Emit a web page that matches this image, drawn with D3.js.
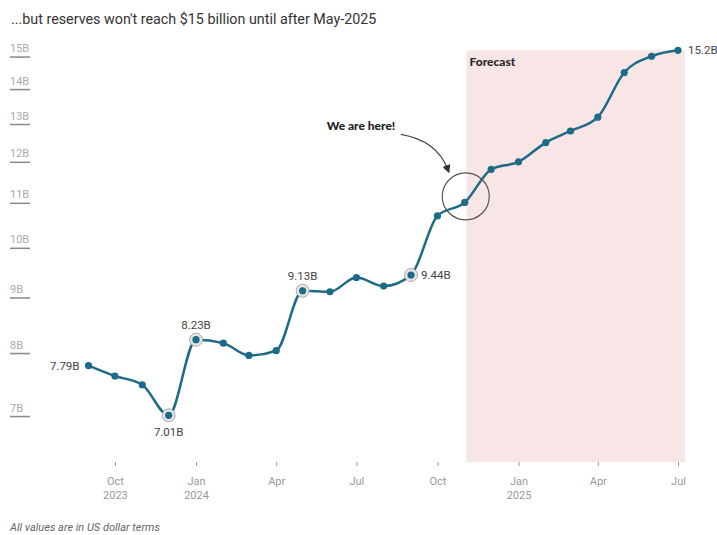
<!DOCTYPE html>
<html>
<head>
<meta charset="utf-8">
<script src="https://cdn.jsdelivr.net/npm/d3@7"></script>
<style>
  body { margin: 0; background: #fff; }
  svg { display: block; font-family: Roboto, "Noto Sans", sans-serif; }
</style>
</head>
<body>
<div id="chart"></div>
<script>
// monthly reserves, billions of US dollars (actual up to Nov 2024, forecast after)
const months = ["2023-09", "2023-10", "2023-11", "2023-12", "2024-01", "2024-02", "2024-03", "2024-04",
  "2024-05", "2024-06", "2024-07", "2024-08", "2024-09", "2024-10", "2024-11", "2024-12",
  "2025-01", "2025-02", "2025-03", "2025-04", "2025-05", "2025-06", "2025-07"];
const reserves = [7.79, 7.62, 7.48, 7.01, 8.23, 8.17, 7.96, 8.04,
  9.13, 9.11, 9.39, 9.22, 9.44, 10.70, 11.01, 11.81,
  12.00, 12.50, 12.81, 13.19, 14.50, 15.01, 15.2];

// labelled points: month, where the label sits, halo or not
const callouts = [
  { month: "2023-09", pos: "left", halo: false },
  { month: "2023-12", pos: "below", halo: true },
  { month: "2024-01", pos: "above", halo: true },
  { month: "2024-05", pos: "above", halo: true },
  { month: "2024-09", pos: "right", halo: true },
  { month: "2025-07", pos: "right", halo: false }
];

const yTicks = [7, 8, 9, 10, 11, 12, 13, 14, 15];
const xTicks = ["2023-10", "2024-01", "2024-04", "2024-07", "2024-10", "2025-01", "2025-04", "2025-07"];
const forecastSpan = ["2024-11-03", "2025-07-09"];
const herePoint = "2024-11";

const subtitle = "...but reserves won't reach $15 billion until after May-2025";
const footnote = "All values are in US dollar terms";

const parseMonth = d3.timeParse("%Y-%m");
const parseDay = d3.timeParse("%Y-%m-%d");
const data = months.map((m, i) => ({ date: parseMonth(m), value: reserves[i], key: m }));

const width = 717, height = 535;
const lineColor = "#1d6b87";

const svg = d3.select("#chart").append("svg")
  .attr("width", width)
  .attr("height", height);

const x = d3.scaleTime()
  .domain(d3.extent(data, d => d.date))
  .range([88.5, 678]);

const y = d3.scaleLog()
  .domain([6.35, 15.2])
  .range([462, 50.3]);

// forecast band
svg.append("rect")
  .attr("x", x(parseDay(forecastSpan[0])))
  .attr("y", y(15.2))
  .attr("width", x(parseDay(forecastSpan[1])) - x(parseDay(forecastSpan[0])))
  .attr("height", y(6.35) - y(15.2))
  .attr("fill", "#f8e5e5");

svg.append("text")
  .attr("x", x(parseDay(forecastSpan[0])) + 3)
  .attr("y", 66)
  .attr("font-family", "Lato, sans-serif")
  .attr("font-weight", 900)
  .attr("font-size", 12)
  .attr("fill", "#2a2a2a")
  .text("Forecast");

// subtitle and footnote
svg.append("text")
  .attr("x", 11)
  .attr("y", 24)
  .attr("font-size", 14.3)
  .attr("fill", "#333")
  .text(subtitle);

svg.append("text")
  .attr("x", 10)
  .attr("y", 531)
  .attr("font-size", 11)
  .attr("font-style", "italic")
  .attr("fill", "#666")
  .text(footnote);

// y axis: labels sit above short tick lines
const yAxis = svg.append("g")
  .attr("transform", "translate(10,0)")
  .call(d3.axisRight(y).tickValues(yTicks).tickSize(20).tickFormat(d => d + "B"));
yAxis.select(".domain").remove();
yAxis.selectAll(".tick line").attr("stroke", "#888").attr("stroke-width", 1.5);
yAxis.selectAll(".tick text")
  .attr("x", 0)
  .attr("dy", -5)
  .attr("text-anchor", "start")
  .attr("font-family", "Roboto, sans-serif")
  .attr("font-size", 11)
  .attr("fill", "#aaa");

// x axis
const fmtMonth = d3.timeFormat("%b");
const xAxis = svg.append("g")
  .attr("transform", "translate(0,462)")
  .call(d3.axisBottom(x).tickValues(xTicks.map(parseMonth)).tickSize(4).tickFormat(""));
xAxis.select(".domain").remove();
xAxis.selectAll(".tick line").attr("stroke", "#999");
xAxis.selectAll(".tick").each(function (d) {
  const t = d3.select(this).select("text")
    .attr("y", 0)
    .attr("dy", null)
    .attr("font-family", "Roboto, sans-serif")
    .attr("font-size", 11)
    .attr("fill", "#999");
  t.append("tspan").attr("x", 0).attr("y", 23).text(fmtMonth(d));
  if (d.getMonth() === 0 || +d === +parseMonth(xTicks[0])) {
    t.append("tspan").attr("x", 0).attr("y", 37).text(d3.timeFormat("%Y")(d));
  }
});

// line
const line = d3.line()
  .x(d => x(d.date))
  .y(d => y(d.value))
  .curve(d3.curveMonotoneX);

svg.append("path")
  .datum(data)
  .attr("fill", "none")
  .attr("stroke", lineColor)
  .attr("stroke-width", 2.5)
  .attr("d", line);

// halos
const byKey = new Map(data.map(d => [d.key, d]));
svg.append("g")
  .selectAll("circle")
  .data(callouts.filter(c => c.halo))
  .join("circle")
  .attr("cx", c => x(byKey.get(c.month).date))
  .attr("cy", c => y(byKey.get(c.month).value))
  .attr("r", 6.5)
  .attr("fill", "#e4e4e4")
  .attr("stroke", "#aaa")
  .attr("stroke-width", 1);

svg.append("g")
  .selectAll("circle")
  .data(data)
  .join("circle")
  .attr("cx", d => x(d.date))
  .attr("cy", d => y(d.value))
  .attr("r", 3.6)
  .attr("fill", lineColor);

// value labels
svg.append("g")
  .selectAll("text")
  .data(callouts)
  .join("text")
  .attr("x", c => {
    const px = x(byKey.get(c.month).date);
    if (c.pos === "left") return px - 9;
    if (c.pos === "right") return px + 10;
    return px;
  })
  .attr("y", c => {
    const py = y(byKey.get(c.month).value);
    if (c.pos === "above") return py - 11;
    if (c.pos === "below") return py + 21;
    return py + 4;
  })
  .attr("text-anchor", c => c.pos === "left" ? "end" : c.pos === "right" ? "start" : "middle")
  .attr("font-size", 11.5)
  .attr("fill", "#444")
  .text(c => byKey.get(c.month).value + "B");

// "we are here" annotation
const here = byKey.get(herePoint);
const hx = x(here.date), hy = y(here.value);

svg.append("circle")
  .attr("cx", hx + 1)
  .attr("cy", hy - 6)
  .attr("r", 23.5)
  .attr("fill", "none")
  .attr("stroke", "#555")
  .attr("stroke-width", 1.2);

svg.append("defs").append("marker")
  .attr("id", "arrow")
  .attr("viewBox", "0 0 10 10")
  .attr("refX", 5)
  .attr("refY", 5)
  .attr("markerWidth", 7)
  .attr("markerHeight", 7)
  .attr("orient", "auto")
  .append("path")
  .attr("d", "M0,0 L10,5 L0,10 Z")
  .attr("fill", "#333");

svg.append("path")
  .attr("d", `M${hx - 64},${hy - 68} Q${hx - 28},${hy - 62} ${hx - 17},${hy - 33}`)
  .attr("fill", "none")
  .attr("stroke", "#444")
  .attr("stroke-width", 1.2)
  .attr("marker-end", "url(#arrow)");

svg.append("text")
  .attr("x", hx - 138)
  .attr("y", hy - 72)
  .attr("font-family", "Lato, sans-serif")
  .attr("font-weight", 900)
  .attr("font-size", 12)
  .attr("fill", "#222")
  .text("We are here!");
</script>
</body>
</html>
